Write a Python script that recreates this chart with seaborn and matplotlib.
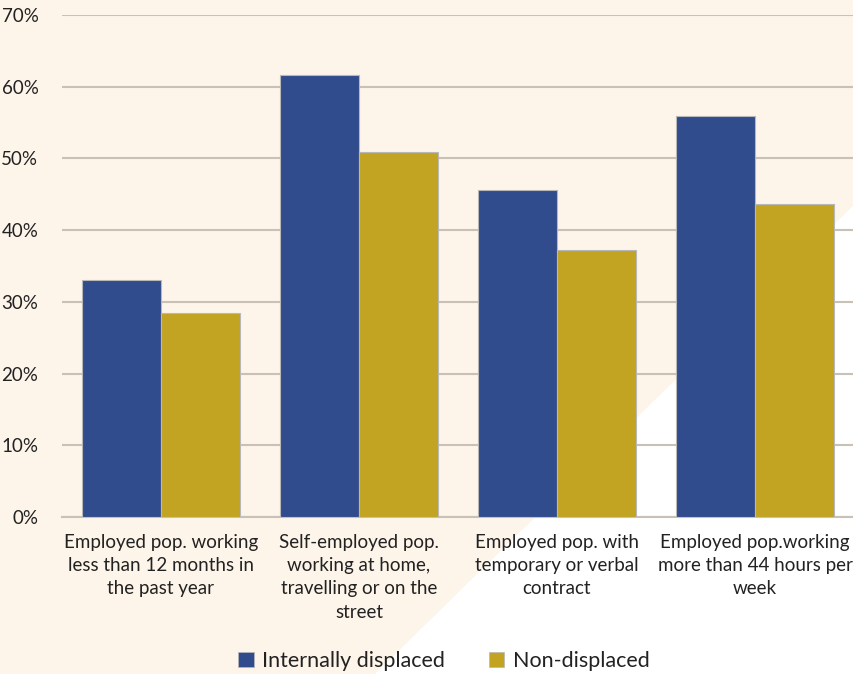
import matplotlib
matplotlib.use("Agg")
import matplotlib.pyplot as plt
from matplotlib.patches import Polygon, Patch
import seaborn as sns
import pandas as pd

categories = [
    "Employed pop. working\nless than 12 months in\nthe past year",
    "Self-employed pop.\nworking at home,\ntravelling or on the\nstreet",
    "Employed pop. with\ntemporary or verbal\ncontract",
    "Employed pop.working\nmore than 44 hours per\nweek",
]
series_names = ["Internally displaced", "Non-displaced"]
internally_displaced = [33.1, 61.6, 45.6, 55.9]
non_displaced = [28.5, 50.9, 37.2, 43.7]
yticks = [0, 10, 20, 30, 40, 50, 60, 70]

df = pd.DataFrame({
    "category": categories * 2,
    "group": [series_names[0]] * 4 + [series_names[1]] * 4,
    "value": internally_displaced + non_displaced,
})

sns.set_theme(style="white")
plt.rcParams["font.family"] = ["Lato", "DejaVu Sans"]

cream = "#FDF4EA"
blue = "#314C8C"
gold = "#C2A322"
grid_c = "#C9C1B8"

fig = plt.figure(figsize=(8.54, 6.74), dpi=100, facecolor=cream)
W, H = 854, 674
pts = [(854 / W, 1 - 205 / H), (854 / W, 0), (375 / W, 0)]
fig.patches.append(Polygon(pts, closed=True, transform=fig.transFigure,
                           facecolor="white", edgecolor="none", zorder=-10))

ax = fig.add_axes([62 / W, 1 - 517 / H, 792 / W, 502 / H])
ax.set_facecolor("none")
ax.set_zorder(1)

sns.barplot(data=df, x="category", y="value", hue="group",
            palette=[blue, gold], saturation=1, width=0.8, ax=ax, legend=False,
            edgecolor="#B8B8B8", linewidth=0.8, zorder=3)

ax.set_xlim(-0.5, 3.5)
ax.set_ylim(0, 70)
ax.set_yticks(yticks)
ax.set_yticklabels([f"{v}%" for v in yticks], fontsize=13.5, color="#222222")
ax.tick_params(axis="y", length=0, pad=17)
ax.tick_params(axis="x", length=0, pad=12, labelsize=13.5, labelcolor="#222222")
for lbl in ax.get_xticklabels():
    lbl.set_linespacing(1.45)
ax.set_xlabel("")
ax.set_ylabel("")
ax.yaxis.grid(True, color=grid_c, linewidth=1.5, zorder=0)
ax.set_axisbelow(True)
for s in ["top", "right", "left"]:
    ax.spines[s].set_visible(False)
ax.spines["bottom"].set_color(grid_c)
ax.spines["bottom"].set_linewidth(1.5)

handles = [Patch(facecolor=blue, edgecolor="#B8B8B8", linewidth=0.5),
           Patch(facecolor=gold, edgecolor="#B8B8B8", linewidth=0.5)]
leg = fig.legend(handles, series_names, loc="center", bbox_to_anchor=(444 / W, 1 - 661 / H),
                 ncol=2, frameon=False, fontsize=15.5, handlelength=0.7, handleheight=0.7,
                 handletextpad=0.4, columnspacing=2.05, labelcolor="#222222")

fig.savefig("out.png", dpi=100, facecolor=cream)
